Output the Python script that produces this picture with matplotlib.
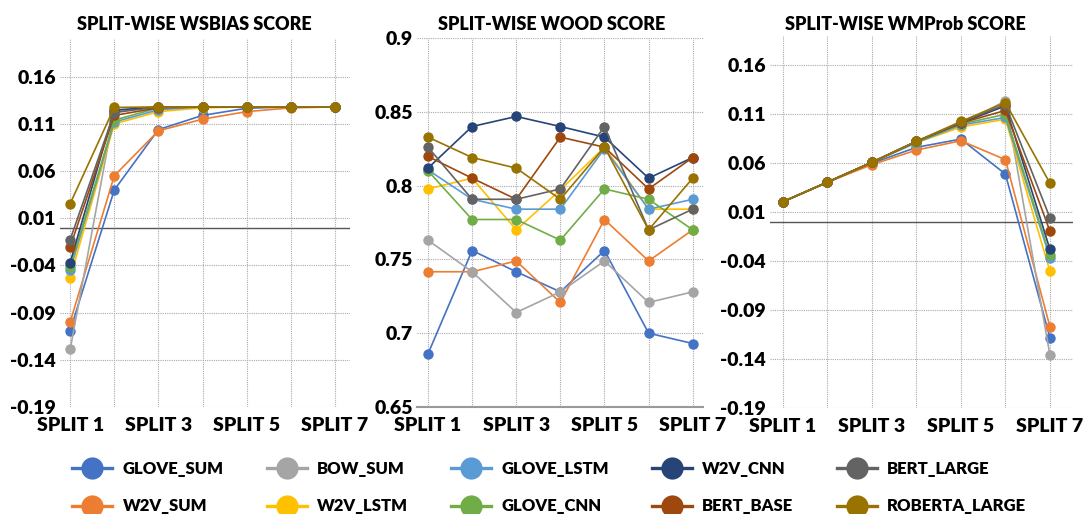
import numpy as np
import matplotlib
matplotlib.use("Agg")
from matplotlib import pyplot as plt
from matplotlib.lines import Line2D

plt.rcParams['font.family'] = ['Lato', 'DejaVu Sans']
plt.rcParams['font.weight'] = 'heavy'

splits = [1, 2, 3, 4, 5, 6, 7]
split_labels = ['SPLIT 1', '', 'SPLIT 3', '', 'SPLIT 5', '', 'SPLIT 7']

models = ['GLOVE_SUM', 'W2V_SUM', 'BOW_SUM', 'W2V_LSTM', 'GLOVE_LSTM',
          'GLOVE_CNN', 'W2V_CNN', 'BERT_BASE', 'BERT_LARGE', 'ROBERTA_LARGE']
colors = ['#4472C4', '#ED7D31', '#A5A5A5', '#FFC000', '#5B9BD5',
          '#70AD47', '#264478', '#9E480E', '#636363', '#997300']

# WSBIAS score per model, splits 1..7
wsbias_glove_sum = [-0.109, 0.040, 0.104, 0.119, 0.1266, 0.128, 0.128]
wsbias_w2v_sum = [-0.100, 0.055, 0.1027, 0.115, 0.123, 0.127, 0.128]
wsbias_bow_sum = [-0.129, 0.123, 0.128, 0.128, 0.128, 0.128, 0.128]
wsbias_w2v_lstm = [-0.053, 0.110, 0.123, 0.127, 0.128, 0.128, 0.128]
wsbias_glove_lstm = [-0.045, 0.112, 0.125, 0.128, 0.128, 0.128, 0.128]
wsbias_glove_cnn = [-0.042, 0.114, 0.127, 0.128, 0.128, 0.128, 0.128]
wsbias_w2v_cnn = [-0.037, 0.1246, 0.128, 0.128, 0.128, 0.128, 0.128]
wsbias_bert_base = [-0.0205, 0.119, 0.127, 0.128, 0.128, 0.128, 0.128]
wsbias_bert_large = [-0.0127, 0.122, 0.128, 0.128, 0.128, 0.128, 0.128]
wsbias_roberta_large = [0.0255, 0.1274, 0.128, 0.128, 0.128, 0.128, 0.128]

# WOOD score
wood_glove_sum = [0.686, 0.756, 0.7416, 0.728, 0.756, 0.700, 0.693]
wood_w2v_sum = [0.7416, 0.7416, 0.7489, 0.7208, 0.777, 0.7489, 0.770]
wood_bow_sum = [0.763, 0.7416, 0.714, 0.728, 0.7489, 0.7208, 0.728]
wood_w2v_lstm = [0.7977, 0.805, 0.770, 0.797, 0.826, 0.784, 0.784]
wood_glove_lstm = [0.8106, 0.7907, 0.784, 0.784, 0.825, 0.784, 0.7907]
wood_glove_cnn = [0.810, 0.777, 0.777, 0.763, 0.7977, 0.7907, 0.770]
wood_w2v_cnn = [0.8118, 0.840, 0.8468, 0.840, 0.8328, 0.805, 0.819]
wood_bert_base = [0.8197, 0.805, 0.7907, 0.8328, 0.826, 0.7977, 0.819]
wood_bert_large = [0.826, 0.7907, 0.7907, 0.7977, 0.840, 0.770, 0.784]
wood_roberta_large = [0.8328, 0.819, 0.8118, 0.7907, 0.826, 0.770, 0.805]

# WMProb score
wm_glove_sum = [0.0207, 0.0407, 0.060, 0.0763, 0.0847, 0.049, -0.118]
wm_w2v_sum = [0.0207, 0.0407, 0.0586, 0.0735, 0.083, 0.0637, -0.1068]
wm_bow_sum = [0.0207, 0.0407, 0.061, 0.0824, 0.100, 0.1237, -0.1356]
wm_w2v_lstm = [0.0207, 0.0407, 0.061, 0.081, 0.097, 0.105, -0.050]
wm_glove_lstm = [0.0207, 0.0407, 0.061, 0.081, 0.099, 0.1068, -0.0366]
wm_glove_cnn = [0.0207, 0.0407, 0.061, 0.082, 0.100, 0.110, -0.034]
wm_w2v_cnn = [0.0207, 0.0407, 0.061, 0.0824, 0.101, 0.1186, -0.0278]
wm_bert_base = [0.0207, 0.0407, 0.061, 0.0824, 0.101, 0.114, -0.0092]
wm_bert_large = [0.0207, 0.0407, 0.061, 0.0824, 0.102, 0.120, 0.0044]
wm_roberta_large = [0.0207, 0.0407, 0.061, 0.0824, 0.1027, 0.122, 0.0397]

wsbias = [wsbias_glove_sum, wsbias_w2v_sum, wsbias_bow_sum, wsbias_w2v_lstm,
          wsbias_glove_lstm, wsbias_glove_cnn, wsbias_w2v_cnn, wsbias_bert_base,
          wsbias_bert_large, wsbias_roberta_large]
wood = [wood_glove_sum, wood_w2v_sum, wood_bow_sum, wood_w2v_lstm,
        wood_glove_lstm, wood_glove_cnn, wood_w2v_cnn, wood_bert_base,
        wood_bert_large, wood_roberta_large]
wmprob = [wm_glove_sum, wm_w2v_sum, wm_bow_sum, wm_w2v_lstm, wm_glove_lstm,
          wm_glove_cnn, wm_w2v_cnn, wm_bert_base, wm_bert_large, wm_roberta_large]

bias_ticks = [-0.19, -0.14, -0.09, -0.04, 0.01, 0.06, 0.11, 0.16]
wood_ticks = [0.65, 0.7, 0.75, 0.8, 0.85, 0.9]

fig = plt.figure(figsize=(10.83, 5.14), dpi=100)

panels = [
    # data, rect, ylim, ticks, xlim, title, title x, zero line
    (wsbias, [0.0554, 0.2082, 0.2678, 0.716], (-0.19, 0.20), bias_ticks,
     (0.77, 7.34), 'SPLIT-WISE WSBIAS SCORE', 0.179, True),
    (wood, [0.385, 0.2082, 0.264, 0.718], (0.65, 0.90), wood_ticks,
     (0.75, 7.23), 'SPLIT-WISE WOOD SCORE', 0.509, False),
    (wmprob, [0.711, 0.206, 0.2798, 0.724], (-0.19, 0.19), bias_ticks,
     (0.71, 7.52), 'SPLIT-WISE WMProb SCORE', 0.836, True),
]

for data, rect, ylim, ticks, xlim, title, tx, zero in panels:
    ax = fig.add_axes(rect)
    for vals, name, c in zip(data, models, colors):
        ax.plot(splits, vals, color=c, lw=1.2, marker='o', ms=7.5,
                markeredgewidth=0, label=name, zorder=3)
    ax.set_ylim(*ylim)
    ax.set_xlim(*xlim)
    ax.set_yticks(ticks)
    ax.set_yticklabels([('%g' % t) for t in ticks])
    ax.set_xticks(splits)
    ax.set_xticklabels(split_labels)
    ax.tick_params(length=0, labelsize=14, pad=3)
    ax.tick_params(axis='x', pad=7)
    for t in ax.get_xticklabels() + ax.get_yticklabels():
        t.set_fontweight('heavy')
    ax.grid(True, color='#aaaaaa', ls=(0, (1, 1)), lw=0.8, zorder=0)
    for s in ax.spines.values():
        s.set_visible(False)
    if zero:
        ax.axhline(0, color='#555555', lw=1.0, zorder=1)
    else:
        ax.spines['bottom'].set_visible(True)
        ax.spines['bottom'].set_color('#999999')
        ax.spines['bottom'].set_linewidth(1.5)
    fig.text(tx, 0.953, title, ha='center', va='center',
             fontsize=13, fontweight='heavy')

handles = [Line2D([], [], color=c, lw=2.4, marker='o', ms=16,
                  markeredgewidth=0) for c in colors]
fig.legend(handles, models, ncol=5, loc='lower center',
           bbox_to_anchor=(0.507, -0.03), frameon=False,
           handlelength=2.4, handletextpad=0.6, columnspacing=2.6,
           labelspacing=1.3, prop={'weight': 'heavy', 'size': 12})

fig.savefig('out.png', dpi=100)
